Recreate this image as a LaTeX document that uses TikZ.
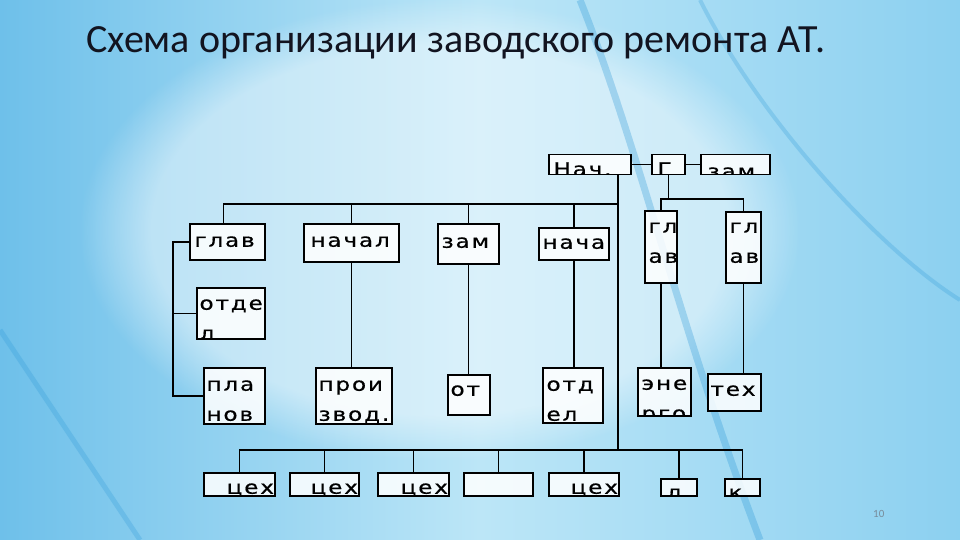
\documentclass[tikz,border=0pt]{standalone}
\usepackage{fontspec}
\usepackage{xcolor}
\usetikzlibrary{fadings}
\setmainfont{Carlito}
\newfontfamily\boxfont[LetterSpace=10,FakeStretch=1.25,FakeBold=0.6]{DejaVu Sans}
\definecolor{waterL}{RGB}{110,192,234}
\definecolor{waterM}{RGB}{188,230,247}
\definecolor{waterR}{RGB}{140,208,240}
\definecolor{waterD}{RGB}{40,150,215}
\definecolor{titleink}{RGB}{18,20,32}
\definecolor{pageink}{RGB}{120,140,155}

\begin{document}
\begin{tikzpicture}[x=1pt,y=-1pt,
    box/.style 2 args={draw,line width=1.5pt,fill=white,fill opacity=.85,inner sep=0pt,
        anchor=north west,minimum width=#1pt,minimum height=#2pt},
    boxtext/.style={font=\boxfont\fontsize{18.5}{30}\selectfont,align=left,inner sep=0pt,
        minimum width=0pt,minimum height=0pt,fill opacity=1,text opacity=1},
    txt/.style n args={3}{path picture={\node[boxtext,anchor=base west]
        at ([xshift=#1pt,yshift=-#2pt]path picture bounding box.north west) {#3};}},
    rtxt/.style n args={3}{path picture={\node[boxtext,anchor=base east]
        at ([xshift=-#1pt,yshift=-#2pt]path picture bounding box.north east) {#3};}},
    link/.style={line width=1.5pt}]
    \useasboundingbox (0,0) rectangle (960,540);
    \shade[left color=waterL,right color=waterR,middle color=waterM] (0,0) rectangle (960,540);
    \fill[white,opacity=.45,path fading=circle with fuzzy edge 20 percent] (440,230) ellipse (360 and 230);
    \draw[waterD,line width=7pt,opacity=.3] (580,0) .. controls (640,150) and (680,330) .. (760,540);
    \draw[waterD,line width=4pt,opacity=.25] (700,0) .. controls (760,120) and (880,250) .. (960,300);
    \draw[waterD,line width=5pt,opacity=.25] (0,330) .. controls (60,420) and (100,480) .. (140,540);
    \node[font=\fontsize{40}{48}\selectfont,text=titleink,anchor=base west,inner sep=0pt] (title)
        at (86,53) {Схема организации заводского ремонта АТ.};
    \node[font=\fontsize{11}{13}\selectfont,text=pageink,anchor=base west,inner sep=0pt] (pagenum)
        at (873,517) {10};
    \node[box={82}{20},txt={4}{21}{Нач.}] (nach) at (548,154) {};
    \node[box={33}{20},txt={5}{21}{Г}] (gen) at (651,154) {};
    \node[box={69}{20},txt={6}{23}{зам.}] (zamg) at (700,154) {};
    \node[box={75}{36},txt={4}{23}{глав}] (glav) at (189,223) {};
    \node[box={95}{38},txt={6}{23}{начал}] (nachal) at (303,223) {};
    \node[box={61}{40},txt={3}{24}{зам}] (zam) at (437,223) {};
    \node[box={70}{32},txt={3}{21}{нача}] (nacha) at (538,227) {};
    \node[box={32}{72},txt={3}{52}{гл\\ав}] (glA) at (644,210) {};
    \node[box={35}{71},txt={3}{51}{гл\\ав}] (glB) at (725,211) {};
    \node[box={68}{51},txt={2}{52}{отде\\л}] (otdel) at (196,287) {};
    \node[box={61}{56},txt={2}{53}{пла\\нов}] (plan) at (203,367) {};
    \node[box={76}{56},txt={2}{53}{прои\\звод.}] (proiz) at (315,367) {};
    \node[box={42}{40},txt={2}{21}{от}] (ot) at (447,374) {};
    \node[box={60}{55},txt={3}{53}{отд\\ел}] (otd) at (542,367) {};
    \node[box={53}{48},txt={3}{52}{эне\\рго}] (energo) at (637,367) {};
    \node[box={53}{37},txt={2}{22}{тех}] (teh) at (707,373) {};
    \node[box={71}{23},rtxt={0}{21}{цех}] (cexA) at (203,472) {};
    \node[box={69}{23},rtxt={0}{21}{цех}] (cexB) at (289,472) {};
    \node[box={71}{23},rtxt={0}{21}{цех}] (cexC) at (377,472) {};
    \node[box={69}{23}] (cexD) at (463,472) {};
    \node[box={70}{23},rtxt={0}{21}{цех}] (cexE) at (548,472) {};
    \node[box={36}{17},txt={5}{20}{л}] (lab) at (660,478) {};
    \node[box={35}{17},txt={3}{20}{к}] (kon) at (724,478) {};
    \coordinate (lft) at (173,0);
    \coordinate (top) at (618,204);
    \coordinate (bot) at (618,450);
    \coordinate (gbus) at (0,199);
    \draw[link] (nach) -- (gen) -- (zamg);
    \draw[link] (nach.south -| top) -- (bot);
    \draw[link] ([xshift=-4pt]glav.north) |- (top);
    \foreach \n in {nachal,zam,nacha}
        \draw[link] (\n.north) -- (\n.north |- top);
    \draw[link] (glav.west) -| (lft |- plan.west) -- (plan.west);
    \draw[link] (lft |- otdel.west) -- (otdel.west);
    \draw[link] (nachal.south) -- (proiz.north -| nachal.south);
    \draw[link] (zam.south) -- (ot.north -| zam.south);
    \draw[link] (nacha.south) -- (otd.north -| nacha.south);
    \draw[link] (gen.south) -- (gen.south |- gbus);
    \draw[link] (glA.north) |- (gbus -| glB.north) -- (glB.north);
    \draw[link] (glA.south) -- (energo.north -| glA.south);
    \draw[link] (glB.south) -- (teh.north -| glB.south);
    \draw[link] (cexA.north) |- (kon.north |- bot) -- (kon.north);
    \foreach \n in {cexB,cexC,cexD,cexE,lab}
        \draw[link] (\n.north) -- (\n.north |- bot);
\end{tikzpicture}
\end{document}
